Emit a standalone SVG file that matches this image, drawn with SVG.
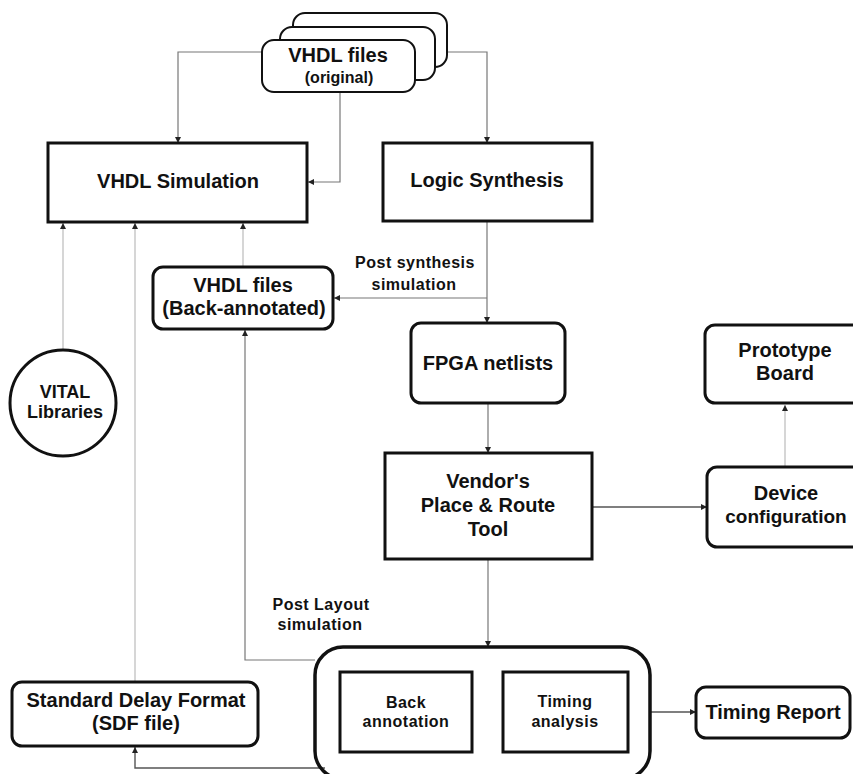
<svg xmlns="http://www.w3.org/2000/svg" width="853" height="774" viewBox="0 0 853 774">
<defs>
<style>
text{font-family:"Liberation Sans",Arial,sans-serif;font-weight:bold;fill:#111;text-anchor:middle}
.big{font-size:20px}
.mid{font-size:18px}
.sm{font-size:16px;letter-spacing:0.5px}
.box{fill:#fff;stroke:#111;stroke-width:3}
.stk{fill:#fff;stroke:#111;stroke-width:2}
.ln{fill:none;stroke:#777;stroke-width:1.2}
.lt{fill:none;stroke:#bbb;stroke-width:1.2}
.dk{fill:none;stroke:#555;stroke-width:1.4}
</style>
<marker id="ah" viewBox="0 0 10 10" refX="10" refY="5" markerWidth="6" markerHeight="6" orient="auto" markerUnits="userSpaceOnUse">
<path d="M0,0 L10,5 L0,10 z" fill="#222"/>
</marker>
</defs>
<rect width="853" height="774" fill="#fff"/>

<g id="connectors">
<path class="ln" d="M262,52 H178 V143" marker-end="url(#ah)"/>
<path class="ln" d="M340,92 V182 H308" marker-end="url(#ah)"/>
<path class="ln" d="M447,52 H487 V143" marker-end="url(#ah)"/>
<path class="ln" d="M487,222 V323" marker-end="url(#ah)"/>
<path class="ln" d="M487,298 H334" marker-end="url(#ah)"/>
<path class="ln" d="M488,403 V453" marker-end="url(#ah)"/>
<path class="ln" d="M488,559 V647" marker-end="url(#ah)"/>
<path class="dk" d="M592,507 H707" marker-end="url(#ah)"/>
<path class="lt" d="M785,467 V405" marker-end="url(#ah)"/>
<path class="lt" d="M243,267 V223" marker-end="url(#ah)"/>
<path class="lt" d="M63,350 V223" marker-end="url(#ah)"/>
<path class="lt" d="M135,682 V223" marker-end="url(#ah)"/>
<path class="ln" d="M315,660 H245 V330" marker-end="url(#ah)"/>
<path class="dk" d="M325,768 H135 V747" marker-end="url(#ah)"/>
<path class="dk" d="M650,712 H696" marker-end="url(#ah)"/>
</g>

<g id="vhdl-original">
<rect class="stk" x="293" y="13" width="154" height="54" rx="12"/>
<rect class="stk" x="280" y="27" width="155" height="53" rx="12"/>
<rect class="stk" x="262" y="40" width="153" height="52" rx="12"/>
<text class="big" x="338" y="62">VHDL files</text>
<text x="339" y="83" style="font-size:16px">(original)</text>
</g>

<g id="vhdl-simulation">
<rect class="box" x="48" y="143" width="259" height="79"/>
<text class="big" x="178" y="188">VHDL Simulation</text>
</g>

<g id="logic-synthesis">
<rect class="box" x="383" y="143" width="209" height="78"/>
<text class="big" x="487" y="187">Logic Synthesis</text>
</g>

<g id="vhdl-back-annotated">
<rect class="box" x="153" y="267" width="180" height="62" rx="10"/>
<text class="big" x="243" y="292">VHDL files</text>
<text class="big" x="244" y="315">(Back-annotated)</text>
</g>

<g id="post-synthesis-label">
<text class="sm" x="415" y="268">Post synthesis</text>
<text class="sm" x="414" y="290">simulation</text>
</g>

<g id="fpga-netlists">
<rect class="box" x="411" y="323" width="154" height="80" rx="10"/>
<text class="big" x="488" y="370">FPGA netlists</text>
</g>

<g id="prototype-board">
<rect class="box" x="705" y="325" width="160" height="78" rx="10"/>
<text class="big" x="785" y="357">Prototype</text>
<text class="big" x="785" y="380">Board</text>
</g>

<g id="vital-libraries">
<circle cx="63" cy="403" r="53" fill="#fff" stroke="#111" stroke-width="3"/>
<text class="mid" x="65" y="398">VITAL</text>
<text class="mid" x="65" y="418">Libraries</text>
</g>

<g id="vendor-par">
<rect class="box" x="385" y="453" width="207" height="106"/>
<text class="big" x="488" y="488">Vendor's</text>
<text class="big" x="488" y="512">Place &amp; Route</text>
<text class="big" x="488" y="536">Tool</text>
</g>

<g id="device-configuration">
<rect class="box" x="707" y="467" width="158" height="80" rx="10"/>
<text class="big" x="786" y="500">Device</text>
<text x="786" y="523" style="font-size:19px">configuration</text>
</g>

<g id="post-layout-label">
<text class="sm" x="321" y="610">Post Layout</text>
<text class="sm" x="320" y="630">simulation</text>
</g>

<g id="sdf-file">
<rect class="box" x="12" y="682" width="246" height="64" rx="10"/>
<text class="big" x="136" y="707">Standard Delay Format</text>
<text class="big" x="136" y="730">(SDF file)</text>
</g>

<g id="timing-container">
<rect x="315" y="647" width="335" height="132" rx="28" fill="none" stroke="#111" stroke-width="3.5"/>
</g>

<g id="back-annotation">
<rect class="box" x="340" y="672" width="132" height="80"/>
<text class="sm" x="406" y="708">Back</text>
<text class="sm" x="406" y="727">annotation</text>
</g>

<g id="timing-analysis">
<rect class="box" x="503" y="672" width="125" height="80"/>
<text class="sm" x="565" y="707">Timing</text>
<text class="sm" x="565" y="727">analysis</text>
</g>

<g id="timing-report">
<rect class="box" x="696" y="687" width="154" height="51" rx="10"/>
<text class="big" x="773" y="719">Timing Report</text>
</g>
</svg>
